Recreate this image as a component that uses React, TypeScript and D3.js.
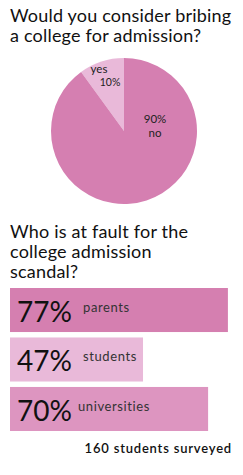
import React from "react";
import * as d3 from "d3";

const pieLabels = ["yes", "no"];
const pieValues = [10, 90];
const barCategories = ["parents", "students", "universities"];
const barValues = [77, 47, 70];
const title1 = ["Would you consider bribing", "a college for admission?"];
const title2 = ["Who is at fault for the", "college admission", "scandal?"];
const footnote = "160 students surveyed";

const FONT = "Lato, 'DejaVu Sans', sans-serif";

export default function App() {
  const W = 243, H = 475;
  const cx = 124, cy = 131, r = 73;
  const pie = d3.pie<number>().sort(null).startAngle(-Math.PI * 2 * 0.1).endAngle(Math.PI * 2 * 0.9)(pieValues);
  const arc = d3.arc<d3.PieArcDatum<number>>().innerRadius(0).outerRadius(r);
  const pieColors = ["#e9b9d9", "#d57fb1"];
  const x = d3.scaleLinear().domain([0, 100]).range([0, 283]);
  const y = d3.scaleBand<string>().domain(barCategories).range([288, 431]).paddingInner(0.11);
  const barColors = ["#d57fb0", "#e9b9d9", "#dd95c0"];
  return (
    <svg width={W} height={H} style={{ position: "absolute", left: 0, top: 0, background: "#fff" }} fontFamily={FONT}>
      {title1.map((t, i) => (
        <text key={t} x={10} y={22 + i * 20} fontSize={18} letterSpacing={0.2} fill="#111">{t}</text>
      ))}
      {pie.map((d, i) => (
        <path key={i} d={arc(d) || ""} transform={`translate(${cx},${cy})`} fill={pieColors[i]} />
      ))}
      <text x={99} y={73} fontSize={11.5} textAnchor="middle" fill="#222">{pieLabels[0]}</text>
      <text x={110} y={86} fontSize={10.5} textAnchor="middle" fill="#222">{pieValues[0]}%</text>
      <text x={155} y={123} fontSize={11.5} textAnchor="middle" fill="#222">{pieValues[1]}%</text>
      <text x={155} y={137} fontSize={11.5} textAnchor="middle" fill="#222">{pieLabels[1]}</text>
      {title2.map((t, i) => (
        <text key={t} x={10} y={238 + i * 20} fontSize={18} letterSpacing={0.2} fill="#111">{t}</text>
      ))}
      {barCategories.map((c, i) => (
        <g key={c}>
          <rect x={10} y={y(c)} width={x(barValues[i])} height={y.bandwidth()} fill={barColors[i]} />
          <text x={17} y={(y(c) || 0) + 34} fontSize={28} fill="#111">{barValues[i]}%</text>
          <text x={i === 2 ? 78 : 83} y={(y(c) || 0) + 24} fontSize={13} letterSpacing={0.6} fill="#333">{c}</text>
        </g>
      ))}
      <text x={232} y={453} fontSize={13} letterSpacing={0.8} textAnchor="end" fill="#111" fontWeight={600}>{footnote}</text>
    </svg>
  );
}
